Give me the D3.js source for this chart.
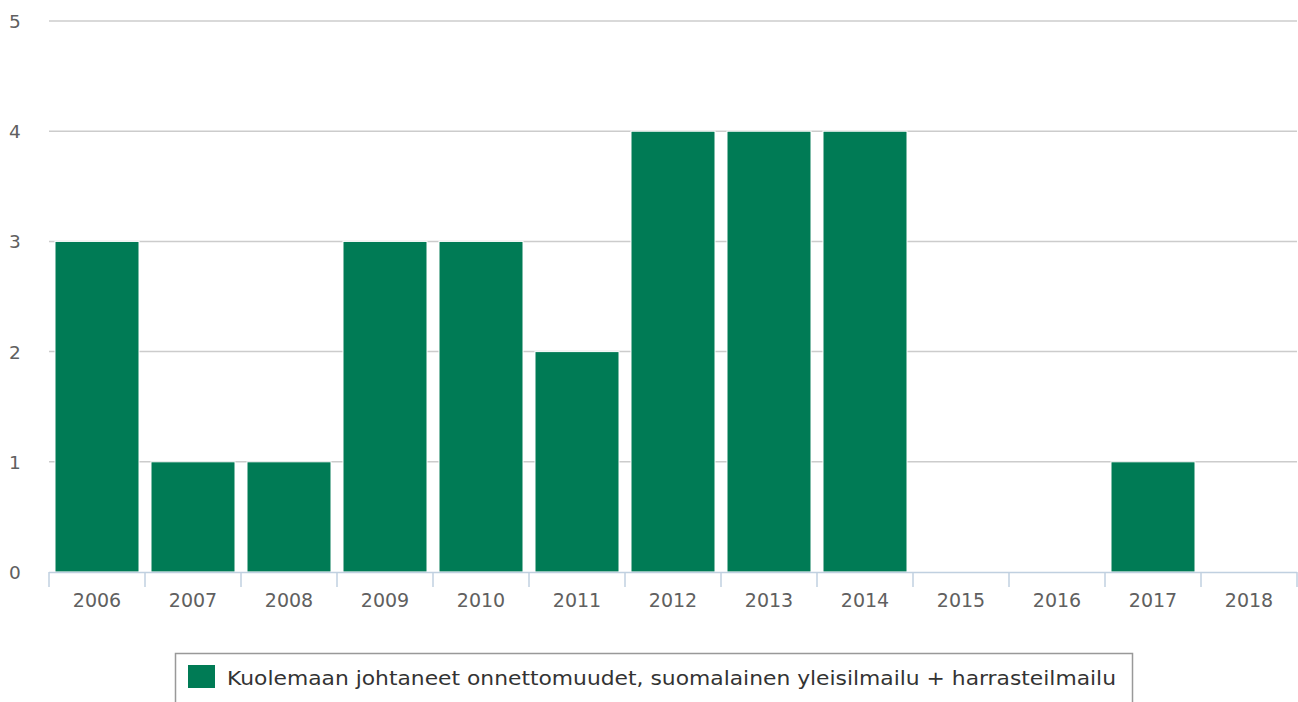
<!DOCTYPE html>
<html><head><meta charset="utf-8">
<script src="https://cdn.jsdelivr.net/npm/d3@7"></script>
<style>body{margin:0;background:#fff}svg{display:block}</style>
</head><body>
<svg id="c" width="1298" height="702"></svg>
<script>
const years = ["2006","2007","2008","2009","2010","2011","2012","2013","2014","2015","2016","2017","2018"];
const values = [3,1,1,3,3,2,4,4,4,0,0,1,0];
const yTicks = [0,1,2,3,4,5];
const seriesName = "Kuolemaan johtaneet onnettomuudet, suomalainen yleisilmailu + harrasteilmailu";

(function(){
const svg = d3.select("#c");
const font = "'DejaVu Sans', sans-serif";
const pLeft = 49, pRight = 1297, pTop = 21, pBottom = 572;
const x = d3.scaleBand().domain(years).range([pLeft, pRight]).paddingInner(0.125).paddingOuter(0.0625);
const xb = d3.scaleBand().domain(years).range([pLeft, pRight]);
const y = d3.scaleLinear().domain([0,5]).range([pBottom, pTop]);

svg.append("g").selectAll("line").data(yTicks.filter(d=>d>0)).join("line")
  .attr("x1", pLeft).attr("x2", pRight).attr("y1", d=>y(d)).attr("y2", d=>y(d))
  .attr("stroke", "#cccccc").attr("stroke-width", 1.5);
svg.append("g").selectAll("text").data(yTicks).join("text")
  .attr("x", 9).attr("y", d=>y(d)+7).text(d=>d)
  .attr("font-family", font).attr("font-size", 18.5).attr("fill", "#606060");

svg.append("g").selectAll("rect").data(years.map((yr,i)=>({yr, v:values[i]})).filter(d=>d.v>0)).join("rect")
  .attr("x", d=>x(d.yr)).attr("width", x.bandwidth())
  .attr("y", d=>y(d.v)).attr("height", d=>y(0)-y(d.v))
  .attr("fill", "#007b55").attr("stroke", "#ffffff").attr("stroke-width", 1);

svg.append("line").attr("x1", pLeft).attr("x2", pRight).attr("y1", pBottom+0.5).attr("y2", pBottom+0.5)
  .attr("stroke", "#c0d0e0").attr("stroke-width", 1.5);
const tickPos = years.map(d=>xb(d)).concat([pRight]);
svg.append("g").selectAll("line").data(tickPos).join("line")
  .attr("x1", d=>d).attr("x2", d=>d).attr("y1", pBottom).attr("y2", pBottom+15)
  .attr("stroke", "#c0d0e0").attr("stroke-width", 1.5);
svg.append("g").selectAll("text").data(years).join("text")
  .attr("x", d=>xb(d)+xb.bandwidth()/2).attr("y", 607).attr("text-anchor","middle").text(d=>d)
  .attr("font-family", font).attr("font-size", 19).attr("fill", "#606060");

const lg = svg.append("g");
lg.append("rect").attr("x", 175.5).attr("y", 653.5).attr("width", 957).attr("height", 60)
  .attr("fill", "#fff").attr("stroke", "#999").attr("stroke-width", 1.5);
lg.append("rect").attr("x", 188).attr("y", 665).attr("width", 27).attr("height", 23).attr("fill", "#007b55");
lg.append("text").attr("x", 227).attr("y", 685).text(seriesName)
  .attr("font-family", font).attr("font-size", 19.5).attr("fill", "#333")
  .attr("textLength", 889).attr("lengthAdjust", "spacingAndGlyphs");
})();
</script>
</body></html>
